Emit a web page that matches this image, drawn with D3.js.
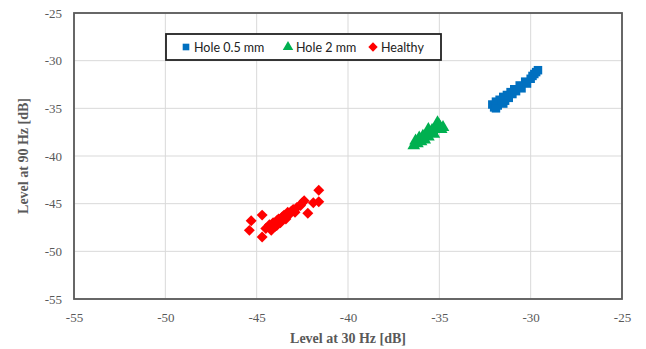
<!DOCTYPE html>
<html><head><meta charset="utf-8">
<script src="https://cdn.jsdelivr.net/npm/d3@7"></script>
<style>body{margin:0;background:#fff}svg{display:block}</style>
</head><body>
<script>
const xTicks = [-55,-50,-45,-40,-35,-30,-25];
const yTicks = [-55,-50,-45,-40,-35,-30,-25];
const seriesNames = ["Hole 0.5 mm","Hole 2 mm","Healthy"];
const seriesColors = ["#0070C0","#00B050","#FF0000"];
const hole05X = [-32.1,-32.0,-31.9,-31.8,-31.7,-31.6,-31.5,-31.4,-31.3,-31.2,-31.1,-31.0,-30.9,-30.8,-30.6,-30.5,-30.3,-30.2,-30.0,-29.9,-29.8,-29.7,-29.6,-31.9,-31.5];
const hole05Y = [-34.6,-34.9,-34.3,-34.7,-34.1,-34.4,-33.8,-34.2,-33.6,-33.9,-33.3,-33.5,-33.0,-33.2,-32.6,-32.9,-32.2,-32.4,-31.9,-31.6,-31.4,-31.2,-31.0,-35.0,-34.5];
const hole2X = [-36.4,-36.3,-36.2,-36.1,-36.0,-35.9,-35.8,-35.7,-35.6,-35.5,-35.4,-35.3,-35.2,-35.1,-35.0,-34.9,-34.8,-35.6];
const hole2Y = [-38.9,-38.4,-38.7,-38.1,-38.5,-37.9,-38.3,-37.8,-38.0,-37.6,-37.3,-37.7,-37.0,-36.5,-36.8,-37.2,-37.0,-37.2];
const healthyX = [-45.3,-45.4,-44.7,-44.7,-44.5,-44.3,-44.1,-44.0,-43.9,-43.8,-43.7,-43.6,-43.5,-43.4,-43.3,-43.2,-43.1,-43.0,-42.9,-42.8,-42.6,-42.5,-42.4,-42.2,-41.9,-41.6,-41.6,-44.2,-43.9];
const healthyY = [-46.8,-47.8,-48.5,-46.2,-47.6,-47.2,-47.0,-47.4,-46.8,-46.6,-47.0,-46.4,-46.2,-46.6,-45.9,-46.1,-45.8,-45.6,-45.9,-45.4,-45.2,-44.9,-44.7,-46.0,-44.9,-44.8,-43.6,-47.8,-47.3];

const W=646,H=349;
const m={l:74,r:24,t:13,b:50};
const svg=d3.select("body").append("svg").attr("width",W).attr("height",H);
const x=d3.scaleLinear().domain([-55,-25]).range([m.l,W-m.r]);
const y=d3.scaleLinear().domain([-55,-25]).range([H-m.b,m.t]);
const grey="#595959";

svg.append("g").selectAll("line").data(xTicks).join("line")
  .attr("x1",d=>x(d)).attr("x2",d=>x(d)).attr("y1",m.t).attr("y2",H-m.b)
  .attr("stroke","#d9d9d9").attr("stroke-width",1);
svg.append("g").selectAll("line").data(yTicks).join("line")
  .attr("y1",d=>y(d)).attr("y2",d=>y(d)).attr("x1",m.l).attr("x2",W-m.r)
  .attr("stroke","#d9d9d9").attr("stroke-width",1);

const fmt=d=>String(d);
const xa=svg.append("g").attr("transform",`translate(0,${H-m.b})`)
  .call(d3.axisBottom(x).tickValues(xTicks).tickSize(0).tickPadding(14).tickFormat(fmt));
const ya=svg.append("g").attr("transform",`translate(${m.l},0)`)
  .call(d3.axisLeft(y).tickValues(yTicks).tickSize(0).tickPadding(12).tickFormat(fmt));
[xa,ya].forEach(a=>{a.select(".domain").remove();
  a.selectAll("text").attr("font-family","Liberation Serif").attr("font-size",13).attr("fill",grey);});

svg.append("rect").attr("x",m.l).attr("y",m.t).attr("width",W-m.r-m.l).attr("height",H-m.b-m.t)
  .attr("fill","none").attr("stroke",grey).attr("stroke-width",1.8);

const diamond={draw(ctx,size){const r=Math.sqrt(size/2);ctx.moveTo(0,-r);ctx.lineTo(r,0);ctx.lineTo(0,r);ctx.lineTo(-r,0);ctx.closePath();}};
const sym=[d3.symbolSquare,d3.symbolTriangle,diamond];
const sizes=[72,70,60];
const sets=[[hole05X,hole05Y],[hole2X,hole2Y],[healthyX,healthyY]];
sets.forEach(([xs,ys],i)=>{
  svg.append("g").selectAll("path").data(xs.map((v,j)=>[v,ys[j]])).join("path")
    .attr("transform",d=>`translate(${x(d[0])},${y(d[1])})`)
    .attr("d",d3.symbol(sym[i],sizes[i])).attr("fill",seriesColors[i]);
});

const lg=svg.append("g");
lg.append("rect").attr("x",166).attr("y",34).attr("width",275).attr("height",26)
  .attr("fill","#fff").attr("stroke","#222").attr("stroke-width",1.8);
const lx=[186,288,373];
seriesNames.forEach((n,i)=>{
  lg.append("path").attr("transform",`translate(${lx[i]},47)`).attr("d",d3.symbol(sym[i],i==1?48:44)).attr("fill",seriesColors[i]);
  lg.append("text").attr("x",lx[i]+8).attr("y",51.5).text(n)
    .attr("font-family","Lato").attr("font-size",12.5).attr("fill","#222");
});

svg.append("text").attr("x",(m.l+W-m.r)/2).attr("y",343).attr("text-anchor","middle")
  .attr("font-family","Liberation Serif").attr("font-weight","bold").attr("font-size",14).attr("fill",grey)
  .text("Level at 30 Hz [dB]");
svg.append("text").attr("transform",`translate(28,${(m.t+H-m.b)/2}) rotate(-90)`).attr("text-anchor","middle")
  .attr("font-family","Liberation Serif").attr("font-weight","bold").attr("font-size",14).attr("fill",grey)
  .text("Level at 90 Hz [dB]");
</script>
</body></html>
